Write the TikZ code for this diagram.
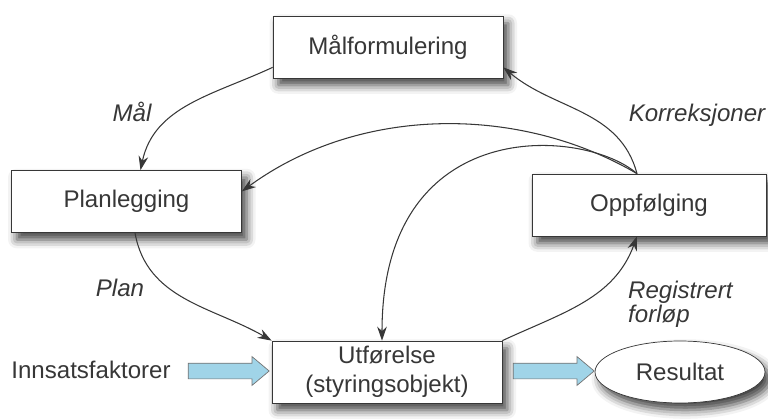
\documentclass[tikz,border=0pt]{standalone}
\usepackage{fontspec}
\setmainfont{Liberation Sans}
\usetikzlibrary{positioning,shapes.geometric,shapes.arrows,arrows.meta,shadows.blur}

\definecolor{feedblue}{RGB}{160,212,232}
\definecolor{inkgray}{RGB}{55,55,55}

\tikzstyle{process} = [rectangle, draw=inkgray, fill=white, text=inkgray,
minimum width=4.6cm, minimum height=1.24cm, inner sep=0pt, align=center,
blur shadow={shadow xshift=3pt, shadow yshift=-4pt, shadow opacity=75, shadow blur radius=5pt}]
\tikzstyle{result} = [ellipse, draw=inkgray, fill=white, text=inkgray,
minimum width=3.4cm, minimum height=1.24cm, inner sep=0pt,
blur shadow={shadow xshift=3pt, shadow yshift=-4pt, shadow opacity=75, shadow blur radius=5pt}]
\tikzstyle{feed} = [single arrow, draw=inkgray!70, fill=feedblue,
minimum height=1.62cm, inner sep=0.15cm, single arrow head extend=0.13cm,
single arrow tip angle=80]
\tikzstyle{line} = [draw=inkgray, line width=0.6pt, -{Stealth[length=8pt,width=5.5pt]}]
\tikzstyle{label_text} = [text=inkgray, font=\fontsize{13.7}{12.5}\selectfont\itshape]

\begin{document}
\begin{tikzpicture}[x=0.02cm, y=-0.02cm, font=\fontsize{13.7}{16.5}\selectfont]
	\useasboundingbox (0,0) rectangle (768,419);

	%Nodes
	\node [process] (mal) at (388,47) {Målformulering};
	\node [process] (plan) at (126.5,201.5) {Planlegging};
	\node [process, minimum width=4.68cm] (opp) at (649,205) {Oppfølging};
	\node [process] (ute) at (387,372) {Utførelse\\(styringsobjekt)};
	\node [result] (res) at (680,372) {Resultat};

	\node [text=inkgray] (innsats) at (91,370) {Innsatsfaktorer};
	\node [feed] (in_arrow) at (224,371) {};
	\node [feed] (out_arrow) at (549,371) {};

	%Labels
	\node [label_text] (l_mal) at (132,112) {Mål};
	\node [label_text] (l_plan) at (120,288) {Plan};
	\node [label_text] (l_korr) at (697,115) {Korreksjoner};
	\node [label_text, align=left, anchor=west] (l_reg) at (622,304) {Registrert\\forløp};

	%Lines
	\path [line] (mal.190) to[out=205, in=78] (plan.66);
	\path [line] ([xshift=0.17cm]plan.south) to[out=-80, in=150] (ute.north west);
	\path [line] (ute.north east) to[out=25, in=-110] ([xshift=-0.24cm]opp.south);
	\path [line] ([xshift=-0.24cm]opp.north) to[out=105, in=-40] (mal.-10);
	\path [line] ([xshift=-0.24cm]opp.north) .. controls (520,105) and (360,105) .. (plan.5);
	\path [line] ([xshift=-0.24cm]opp.north) .. controls (585,128) and (382,112) .. ([xshift=-0.1cm]ute.north);
\end{tikzpicture}
\end{document}
